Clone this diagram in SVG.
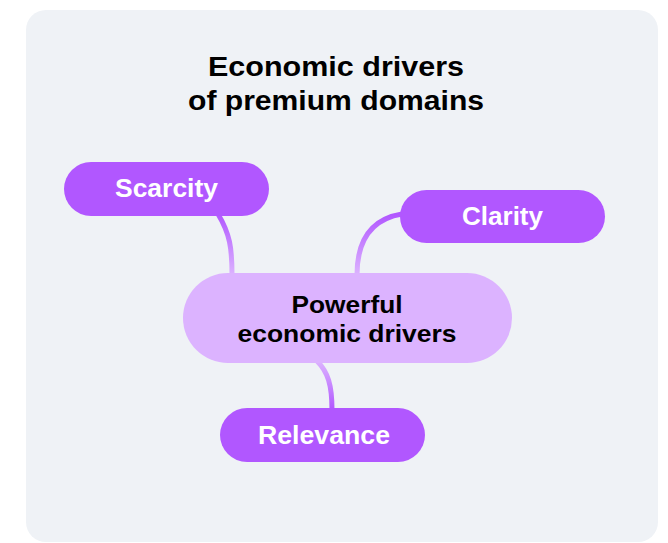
<svg xmlns="http://www.w3.org/2000/svg" width="668" height="543" viewBox="0 0 668 543">
<defs>
<style>
.title{font-family:"Liberation Sans",Arial,sans-serif;font-weight:bold;font-size:27px;fill:#000;text-anchor:middle}
.leaf rect{fill:#b157ff}
.leaf text{font-family:"Liberation Sans",Arial,sans-serif;font-weight:bold;font-size:25px;fill:#fff;text-anchor:middle}
.hub rect{fill:#dcb3ff}
.hub text{font-family:"Liberation Sans",Arial,sans-serif;font-weight:bold;font-size:24px;fill:#000;text-anchor:middle}
.conn{fill:none;stroke-width:5;stroke-linecap:butt}
</style>
<linearGradient id="gDown" x1="0" y1="0" x2="0" y2="1">
<stop offset="0" stop-color="#b157ff"/>
<stop offset="1" stop-color="#dcb3ff"/>
</linearGradient>
<linearGradient id="gUp" x1="0" y1="0" x2="0" y2="1">
<stop offset="0" stop-color="#dcb3ff"/>
<stop offset="1" stop-color="#b157ff"/>
</linearGradient>
</defs>
<rect width="668" height="543" fill="#ffffff"/>
<rect x="26" y="10" width="632" height="532" rx="20" fill="#eff2f6"/>
<g id="title">
<text class="title" x="336" y="76" textLength="256" lengthAdjust="spacingAndGlyphs">Economic drivers</text>
<text class="title" x="336" y="110" textLength="296" lengthAdjust="spacingAndGlyphs">of premium domains</text>
</g>
<g id="connectors">
<path class="conn" stroke="url(#gDown)" d="M218,214 C230,234 232,248 232,275"/>
<path class="conn" stroke="url(#gDown)" d="M402,214 C372,219 357,240 357,275"/>
<path class="conn" stroke="url(#gUp)" d="M317,361 C328,372 332,385 332,410"/>
</g>
<g id="hub" class="hub">
<rect x="183" y="273" width="329" height="90" rx="45"/>
<text x="347" y="313" textLength="111" lengthAdjust="spacingAndGlyphs">Powerful</text>
<text x="347" y="342" textLength="219" lengthAdjust="spacingAndGlyphs">economic drivers</text>
</g>
<g id="scarcity" class="leaf">
<rect x="64" y="162" width="205" height="54" rx="27"/>
<text x="166.5" y="197" textLength="103" lengthAdjust="spacingAndGlyphs">Scarcity</text>
</g>
<g id="clarity" class="leaf">
<rect x="400" y="190" width="205" height="53" rx="26.5"/>
<text x="502.5" y="225" textLength="81" lengthAdjust="spacingAndGlyphs">Clarity</text>
</g>
<g id="relevance" class="leaf">
<rect x="220" y="408" width="205" height="54" rx="27"/>
<text x="324" y="444" textLength="132" lengthAdjust="spacingAndGlyphs">Relevance</text>
</g>
</svg>
